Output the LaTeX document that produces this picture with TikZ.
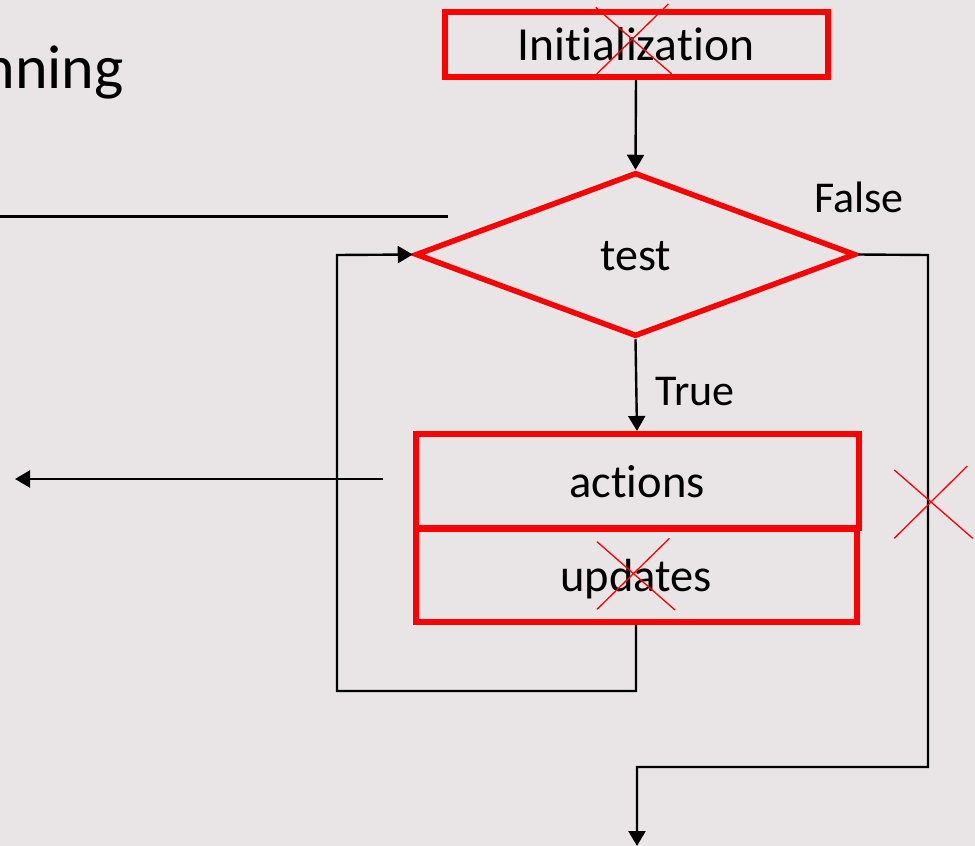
\documentclass[tikz,border=0pt]{standalone}
\usepackage{fontspec}
\setmainfont{Carlito}[Ligatures={NoCommon}]
\usetikzlibrary{shapes.geometric,arrows.meta}
\definecolor{bgc}{RGB}{233,229,230}
\definecolor{xred}{RGB}{255,0,0}
\begin{document}
\begin{tikzpicture}[x=1pt,y=-1pt,
  redbox/.style={draw=xred,line width=6pt,rectangle,inner sep=0pt,
    text height=42.6pt,text depth=10pt,font=\fontsize{46.5}{50}\selectfont},
  reddiam/.style={draw=xred,line width=5.5pt,diamond,inner sep=0pt,
    text height=42.6pt,text depth=10pt,font=\fontsize{46}{50}\selectfont},
  conn/.style={draw=black,line width=2.4pt},
  arr/.style={conn,-{Triangle[length=15pt,width=17pt]}},
  crossline/.style={draw=xred,line width=1.3pt},
  lbl/.style={inner sep=0pt,font=\fontsize{44}{48}\selectfont}]
\fill[bgc] (0,0) rectangle (975,846);
\useasboundingbox (0,0) rectangle (975,846);

% title fragment
\node[inner sep=0pt,anchor=base east,font=\fontsize{62}{66}\selectfont] (title) at (124,88) {nning};

% flowchart nodes
\node[redbox,minimum width=383pt,minimum height=65pt,font=\fontsize{47.5}{50}\selectfont] (init) at (636,44.5) {Initialization};
\node[reddiam,minimum width=440pt,minimum height=164pt] (test) at (635.5,254.5) {test};
\node[redbox,minimum width=443pt,minimum height=94.5pt] (actions) at (637,481.2) {actions};
\node[redbox,minimum width=441pt,minimum height=92.7pt] (updates) at (636,575.3) {updates};

\node[lbl,anchor=base west] (truelbl) at (655.5,405) {True};
\node[lbl,anchor=base west] (falselbl) at (814,212) {False};

% corner coordinates
\coordinate (lb) at (636,691);
\coordinate (ll) at (337,691);
\coordinate (lt) at (337,255);
\coordinate (rt) at (928,255);
\coordinate (rb) at (928,767);
\coordinate (eb) at (637,767);
\coordinate (ex) at (637,846);
\coordinate (la1) at (383,479);
\coordinate (la2) at (15,479);
\coordinate (tl1) at (0,216.5);
\coordinate (tl2) at (448,216.5);

% connectors
\draw[arr] (init.south) -- (test.north);
\draw[arr] (test.south) -- (actions.north);
\draw[arr] (updates.south) -- (lb) -- (ll) -- (lt) -- (test.west);
\draw[arr] (test.east) -- (rt) -- (rb) -- (eb) -- (ex);
\draw[arr] (la1) -- (la2);
\draw[conn] (tl1) -- (tl2);

% red crosses
\coordinate (c1a) at (595.7,7.3);  \coordinate (c1b) at (671.7,74);
\coordinate (c1c) at (668.3,4);    \coordinate (c1d) at (596.7,74);
\draw[crossline] (c1a) -- (c1b);
\draw[crossline] (c1c) -- (c1d);
\coordinate (c2a) at (597,541.7);  \coordinate (c2b) at (675,610);
\coordinate (c2c) at (669.5,538.3);\coordinate (c2d) at (597,609.3);
\draw[crossline] (c2a) -- (c2b);
\draw[crossline] (c2c) -- (c2d);
\coordinate (c3a) at (894.3,470);  \coordinate (c3b) at (972.7,538.3);
\coordinate (c3c) at (967.3,466);  \coordinate (c3d) at (894.3,538.3);
\draw[crossline] (c3a) -- (c3b);
\draw[crossline] (c3c) -- (c3d);
\end{tikzpicture}
\end{document}
